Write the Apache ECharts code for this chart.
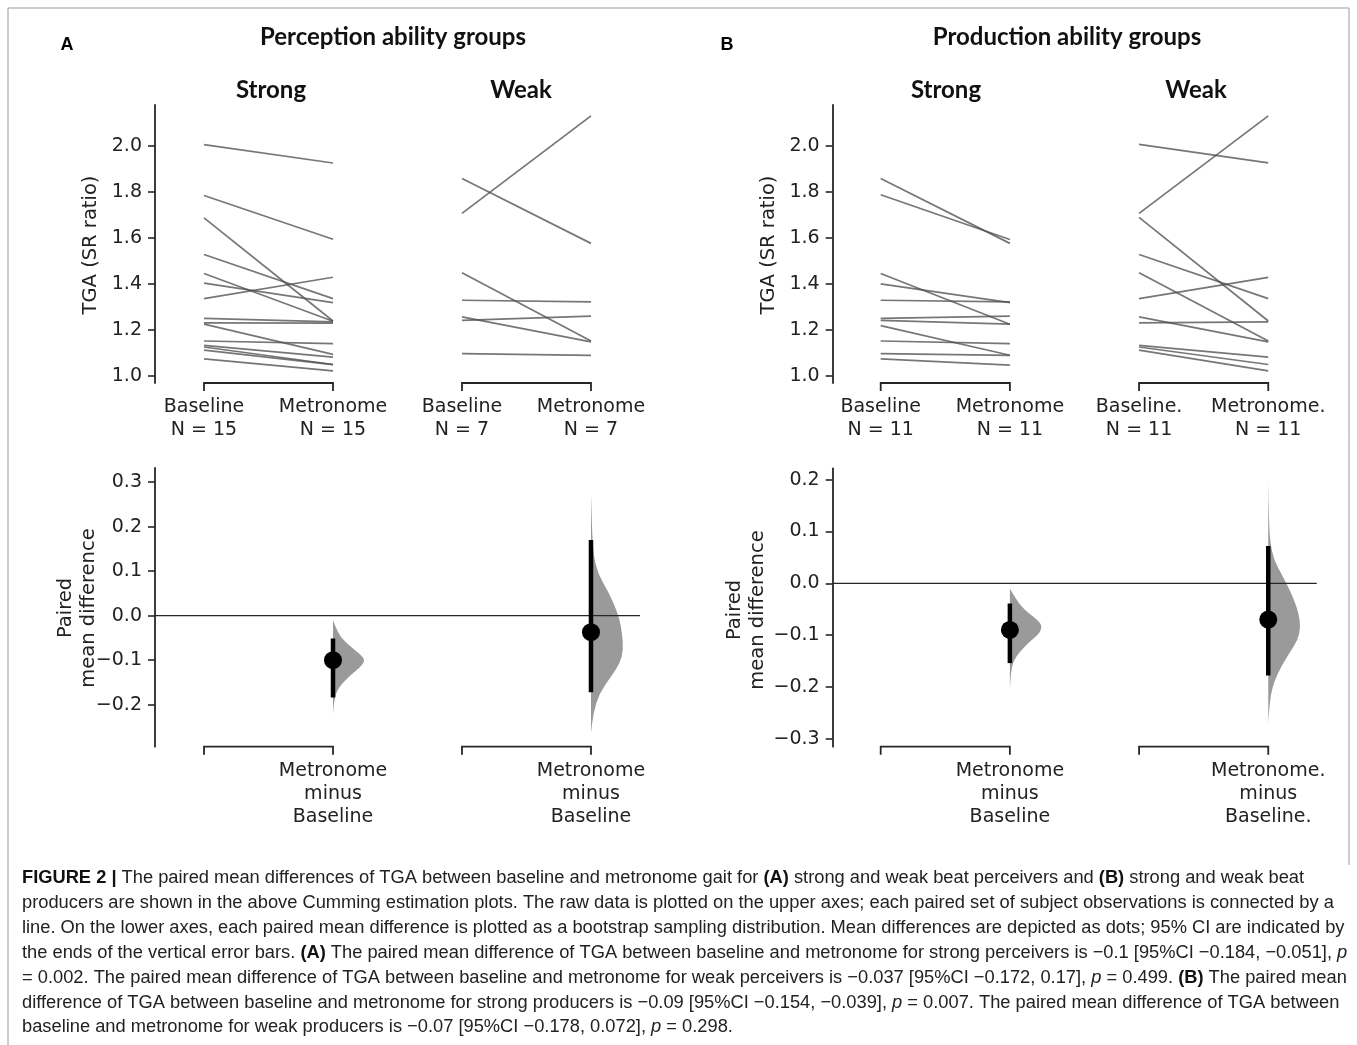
<!DOCTYPE html>
<html>
<head>
<meta charset="utf-8">
<script src="https://cdn.jsdelivr.net/npm/echarts@6/dist/echarts.min.js"></script>
<style>
html,body{margin:0;padding:0;background:#ffffff;}
#chart{width:1357px;height:1045px;}
</style>
</head>
<body>
<div id="chart"></div>
<script>
// ---------------- DATA ----------------
const upperTicks = [1.0, 1.2, 1.4, 1.6, 1.8, 2.0];
const lowerTicksA = [-0.2, -0.1, 0.0, 0.1, 0.2, 0.3];
const lowerTicksB = [-0.3, -0.2, -0.1, 0.0, 0.1, 0.2];
const groupPositions = [0, 1, 2, 3];

const upperXLabelsA = ['Baseline\nN = 15', 'Metronome\nN = 15', 'Baseline\nN = 7', 'Metronome\nN = 7'];
const upperXLabelsB = ['Baseline\nN = 11', 'Metronome\nN = 11', 'Baseline.\nN = 11', 'Metronome.\nN = 11'];
const lowerXLabelsA = ['', 'Metronome\nminus\nBaseline', '', 'Metronome\nminus\nBaseline'];
const lowerXLabelsB = ['', 'Metronome\nminus\nBaseline', '', 'Metronome.\nminus\nBaseline.'];

// Perception groups (panel A)
const percStrongBaseline  = [2.005, 1.784, 1.687, 1.528, 1.445, 1.403, 1.336, 1.250, 1.231, 1.225, 1.152, 1.133, 1.126, 1.112, 1.074];
const percStrongMetronome = [1.925, 1.594, 1.239, 1.336, 1.238, 1.319, 1.429, 1.235, 1.230, 1.094, 1.141, 1.082, 1.050, 1.049, 1.022];
const percWeakBaseline    = [1.858, 1.706, 1.448, 1.329, 1.257, 1.242, 1.097];
const percWeakMetronome   = [1.576, 2.130, 1.152, 1.322, 1.148, 1.260, 1.090];

// Production groups (panel B)
const prodStrongBaseline  = [1.858, 1.787, 1.445, 1.400, 1.329, 1.250, 1.242, 1.219, 1.152, 1.097, 1.074];
const prodStrongMetronome = [1.576, 1.593, 1.225, 1.319, 1.322, 1.260, 1.225, 1.090, 1.141, 1.090, 1.047];
const prodWeakBaseline    = [2.006, 1.706, 1.689, 1.528, 1.448, 1.336, 1.257, 1.231, 1.133, 1.126, 1.112];
const prodWeakMetronome   = [1.926, 2.130, 1.239, 1.336, 1.152, 1.428, 1.148, 1.235, 1.082, 1.050, 1.022];

// Paired mean differences [strong, weak]
const percDiffMean = [-0.100, -0.037];
const percDiffLow  = [-0.184, -0.172];
const percDiffHigh = [-0.051, 0.170];
const prodDiffMean = [-0.090, -0.070];
const prodDiffLow  = [-0.154, -0.178];
const prodDiffHigh = [-0.039, 0.072];

// Bootstrap distributions (value, relative density)
const percStrongDistY = [-0.010, -0.025, -0.047, -0.070, -0.085, -0.100, -0.115, -0.130, -0.145, -0.160, -0.175, -0.195, -0.220];
const percStrongDistW = [0, 0.08, 0.22, 0.55, 0.82, 1.00, 0.86, 0.60, 0.38, 0.20, 0.09, 0.03, 0];
const percWeakDistY = [0.275, 0.200, 0.140, 0.095, 0.050, 0.000, -0.040, -0.077, -0.107, -0.137, -0.174, -0.219, -0.264];
const percWeakDistW = [0, 0.03, 0.07, 0.21, 0.57, 0.86, 0.97, 1.00, 0.90, 0.62, 0.26, 0.07, 0];
const prodStrongDistY = [-0.010, -0.032, -0.052, -0.064, -0.080, -0.096, -0.112, -0.132, -0.151, -0.174, -0.206];
const prodStrongDistW = [0, 0.20, 0.46, 0.72, 1.00, 0.93, 0.62, 0.31, 0.10, 0.03, 0];
const prodWeakDistY = [0.194, 0.123, 0.078, 0.045, 0.019, -0.007, -0.032, -0.058, -0.084, -0.109, -0.135, -0.161, -0.187, -0.213, -0.251, -0.270];
const prodWeakDistW = [0, 0.02, 0.06, 0.18, 0.40, 0.62, 0.80, 0.94, 1.00, 0.92, 0.65, 0.40, 0.20, 0.08, 0.02, 0];

const captionLines = [
  '{b|FIGURE 2 |} The paired mean differences of TGA between baseline and metronome gait for {b|(A)} strong and weak beat perceivers and {b|(B)} strong and weak beat',
  'producers are shown in the above Cumming estimation plots. The raw data is plotted on the upper axes; each paired set of subject observations is connected by a',
  'line. On the lower axes, each paired mean difference is plotted as a bootstrap sampling distribution. Mean differences are depicted as dots; 95% CI are indicated by',
  'the ends of the vertical error bars. {b|(A)} The paired mean difference of TGA between baseline and metronome for strong perceivers is \u22120.1 [95%CI \u22120.184, \u22120.051], {i|p}',
  '= 0.002. The paired mean difference of TGA between baseline and metronome for weak perceivers is \u22120.037 [95%CI \u22120.172, 0.17], {i|p} = 0.499. {b|(B)} The paired mean',
  'difference of TGA between baseline and metronome for strong producers is \u22120.09 [95%CI \u22120.154, \u22120.039], {i|p} = 0.007. The paired mean difference of TGA between',
  'baseline and metronome for weak producers is \u22120.07 [95%CI \u22120.178, 0.072], {i|p} = 0.298.'
];

// ---------------- LAYOUT ----------------
const UP_Y = [0.9696, 2.177];
const LOW_A_Y = [-0.2943, 0.3318];
const LOW_B_Y = [-0.3154, 0.222];
const X_A = [-0.38, 3.38];
const X_B = [-0.3715, 3.375];
const VIOLIN_HALF = 0.25;
const TICK_FONT = '"DejaVu Sans", sans-serif';
const TXT = '#222222';

function fmt(v) {
  const s = Math.abs(v).toFixed(1);
  return (v < -1e-9 ? '\u2212' : '') + s;
}

function yAxisCfg(g, range, ticks) {
  return {
    type: 'value', gridIndex: g, min: range[0], max: range[1], position: 'left',
    axisLine: { show: true, onZero: false, lineStyle: { color: '#262626', width: 1.8 } },
    axisTick: { show: true, customValues: ticks, length: 7, lineStyle: { color: '#262626', width: 1.6 } },
    axisLabel: { customValues: ticks, formatter: fmt, fontSize: 19, color: TXT, margin: 13, fontFamily: TICK_FONT },
    splitLine: { show: false }
  };
}

function xAxisCfg(g, range, labels, margin) {
  return {
    type: 'value', gridIndex: g, min: range[0], max: range[1], position: 'bottom',
    axisLine: { show: false, onZero: false }, axisTick: { show: false }, splitLine: { show: false },
    axisLabel: {
      customValues: groupPositions, formatter: v => labels[Math.round(v)],
      fontSize: 19, lineHeight: 23, color: TXT, margin: margin, fontFamily: TICK_FONT, align: 'center'
    }
  };
}

function pairLines(g, base, metro, x0) {
  return base.map((b, i) => ({
    type: 'line', xAxisIndex: g, yAxisIndex: g, data: [[x0, b], [x0 + 1, metro[i]]],
    symbol: 'none', silent: true, z: 2,
    lineStyle: { color: 'rgba(80,80,80,0.78)', width: 1.7 }
  }));
}

function brackets(g, yBase) {
  return {
    type: 'custom', xAxisIndex: g, yAxisIndex: g, silent: true, clip: false, z: 3,
    data: [[0, 1], [2, 3]], encode: { x: [0, 1] },
    renderItem: (params, api) => {
      const a = api.coord([api.value(0), yBase]);
      const b = api.coord([api.value(1), yBase]);
      return {
        type: 'polyline',
        shape: { points: [[a[0], a[1] + 8], [a[0], a[1]], [b[0], b[1]], [b[0], b[1] + 8]] },
        style: { stroke: '#262626', lineWidth: 1.8, fill: null }
      };
    }
  };
}

function violin(g, x, ys, ws) {
  return {
    type: 'custom', xAxisIndex: g, yAxisIndex: g, silent: true, z: 3,
    data: [[x, ys[0]]],
    renderItem: (params, api) => {
      const pts = ys.map((y, i) => api.coord([x + ws[i] * VIOLIN_HALF, y]));
      let d = 'M' + pts[0][0] + ',' + pts[0][1];
      for (let i = 1; i < pts.length - 1; i++) {
        const mx = (pts[i][0] + pts[i + 1][0]) / 2, my = (pts[i][1] + pts[i + 1][1]) / 2;
        d += ' Q' + pts[i][0] + ',' + pts[i][1] + ' ' + mx + ',' + my;
      }
      const last = pts[pts.length - 1];
      d += ' L' + last[0] + ',' + last[1] + ' Z';
      return { type: 'path', shape: { pathData: d }, style: { fill: '#9a9a9a', stroke: null } };
    }
  };
}

function effect(g, x, mean, lo, hi) {
  return [
    { type: 'line', xAxisIndex: g, yAxisIndex: g, data: [[x, lo], [x, hi]], symbol: 'none', silent: true, z: 5,
      lineStyle: { color: '#000', width: 4.5, cap: 'butt' } },
    { type: 'scatter', xAxisIndex: g, yAxisIndex: g, data: [[x, mean]], symbol: 'circle', symbolSize: 18, silent: true, z: 6,
      itemStyle: { color: '#000', opacity: 1 } }
  ];
}

function zeroLine(g, range) {
  return { type: 'line', xAxisIndex: g, yAxisIndex: g, data: [[range[0], 0], [range[1], 0]], symbol: 'none', silent: true, z: 4,
    lineStyle: { color: '#262626', width: 1.3 } };
}

const series = [].concat(
  pairLines(0, percStrongBaseline, percStrongMetronome, 0),
  pairLines(0, percWeakBaseline, percWeakMetronome, 2),
  pairLines(1, prodStrongBaseline, prodStrongMetronome, 0),
  pairLines(1, prodWeakBaseline, prodWeakMetronome, 2),
  [brackets(0, UP_Y[0]), brackets(1, UP_Y[0]), brackets(2, LOW_A_Y[0]), brackets(3, LOW_B_Y[0])],
  [violin(2, 1, percStrongDistY, percStrongDistW), violin(2, 3, percWeakDistY, percWeakDistW),
   violin(3, 1, prodStrongDistY, prodStrongDistW), violin(3, 3, prodWeakDistY, prodWeakDistW)],
  [zeroLine(2, X_A), zeroLine(3, X_B)],
  effect(2, 1, percDiffMean[0], percDiffLow[0], percDiffHigh[0]),
  effect(2, 3, percDiffMean[1], percDiffLow[1], percDiffHigh[1]),
  effect(3, 1, prodDiffMean[0], prodDiffLow[0], prodDiffHigh[0]),
  effect(3, 3, prodDiffMean[1], prodDiffLow[1], prodDiffHigh[1])
);

// caption font size fitted to reference line width
const CAP_FAMILY = '"Liberation Sans Narrow", "Liberation Sans", Arial, sans-serif';
let capSize = 16;
try {
  const ctx = document.createElement('canvas').getContext('2d');
  ctx.font = '100px ' + CAP_FAMILY;
  const plain = captionLines[1].replace(/\{[a-z]+\|([^}]*)\}/g, '$1');
  const w = ctx.measureText(plain).width;
  capSize = Math.max(13, Math.min(20, 100 * 1313 / w));
} catch (e) {}

const TITLE_FONT = '"Lato", "Open Sans", sans-serif';
function title(text, x, y, size) {
  return { type: 'text', silent: true, style: { text, x, y, fontFamily: TITLE_FONT, fontWeight: 'bold', fontSize: size, fill: '#111', textAlign: 'center', textVerticalAlign: 'middle' } };
}
function vText(text, x, y) {
  return { type: 'text', silent: true, x: x, y: y, rotation: Math.PI / 2,
    style: { text, x: 0, y: 0, fontFamily: TICK_FONT, fontSize: 19.5, fill: TXT, textAlign: 'center', textVerticalAlign: 'middle' } };
}

const graphics = [
  { type: 'polyline', silent: true, shape: { points: [[1349, 865], [1349, 8], [8, 8], [8, 1045]] }, style: { stroke: '#9a9a9a', lineWidth: 1, fill: null } },
  { type: 'text', silent: true, style: { text: 'A', x: 67, y: 45, fontFamily: '"Liberation Sans", Arial, sans-serif', fontWeight: 'bold', fontSize: 18, fill: '#000', textAlign: 'center', textVerticalAlign: 'middle' } },
  { type: 'text', silent: true, style: { text: 'B', x: 727, y: 45, fontFamily: '"Liberation Sans", Arial, sans-serif', fontWeight: 'bold', fontSize: 18, fill: '#000', textAlign: 'center', textVerticalAlign: 'middle' } },
  title('Perception ability groups', 393, 37, 24),
  title('Production ability groups', 1067, 37, 24),
  title('Strong', 271, 90, 24),
  title('Weak', 521, 90, 24),
  title('Strong', 946, 90, 24),
  title('Weak', 1196, 90, 24),
  vText('TGA (SR ratio)', 91, 245),
  vText('TGA (SR ratio)', 769, 245),
  vText('Paired', 66, 608),
  vText('mean difference', 89, 608),
  vText('Paired', 735, 610),
  vText('mean difference', 758, 610)
];
const capY = [878, 903, 928, 953, 978, 1003, 1027];
captionLines.forEach((line, i) => {
  graphics.push({
    type: 'text', silent: true,
    style: {
      text: line, x: 22, y: capY[i], fontFamily: CAP_FAMILY, fontSize: capSize, fill: '#222',
      textAlign: 'left', textVerticalAlign: 'middle',
      rich: {
        b: { fontFamily: CAP_FAMILY, fontSize: capSize, fontWeight: 'bold', fill: '#111' },
        i: { fontFamily: CAP_FAMILY, fontSize: capSize, fontStyle: 'italic', fill: '#222' }
      }
    }
  });
});

const option = {
  backgroundColor: '#ffffff',
  animation: false,
  grid: [
    { left: 155, top: 105, width: 485, height: 278 },
    { left: 832.7, top: 105, width: 484, height: 278 },
    { left: 155, top: 468, width: 485, height: 278.7 },
    { left: 832.7, top: 468.3, width: 484, height: 278.4 }
  ],
  xAxis: [
    xAxisCfg(0, X_A, upperXLabelsA, 13),
    xAxisCfg(1, X_B, upperXLabelsB, 13),
    xAxisCfg(2, X_A, lowerXLabelsA, 13),
    xAxisCfg(3, X_B, lowerXLabelsB, 13)
  ],
  yAxis: [
    yAxisCfg(0, UP_Y, upperTicks),
    yAxisCfg(1, UP_Y, upperTicks),
    yAxisCfg(2, LOW_A_Y, lowerTicksA),
    yAxisCfg(3, LOW_B_Y, lowerTicksB)
  ],
  series: series,
  graphic: graphics
};

const chart = echarts.init(document.getElementById('chart'), null, { renderer: 'canvas', width: 1357, height: 1045 });
chart.setOption(option);
</script>
</body>
</html>
